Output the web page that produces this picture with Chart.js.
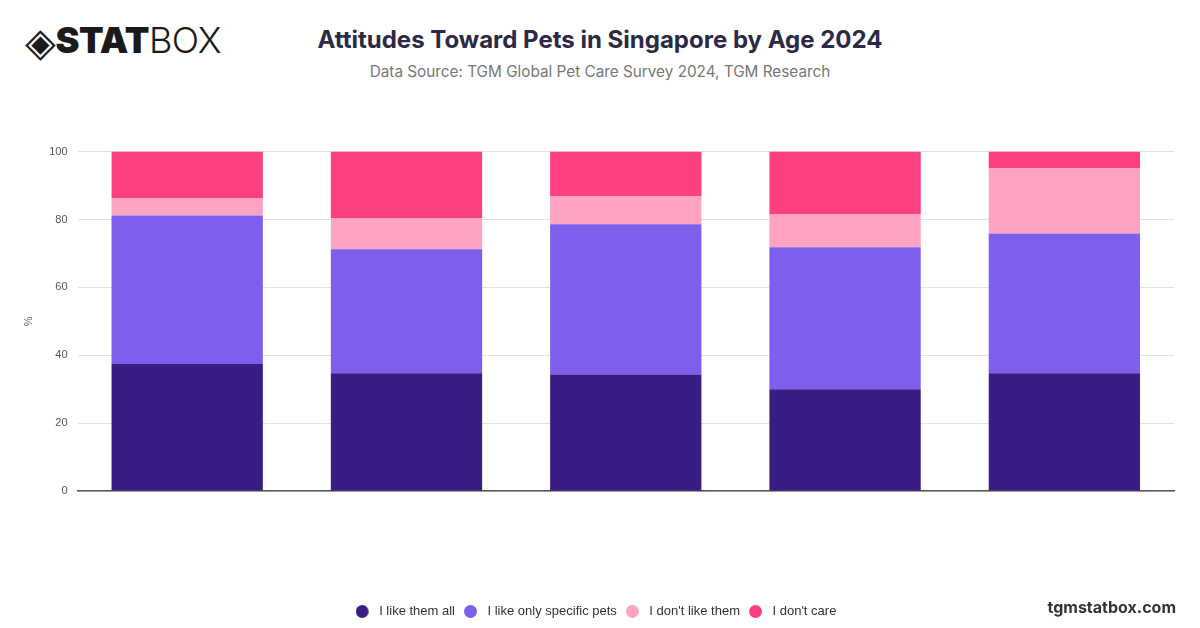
<!DOCTYPE html>
<html>
<head>
<meta charset="utf-8">
<script src="https://cdn.jsdelivr.net/npm/chart.js@4"></script>
<style>
  body { margin: 0; width: 1200px; height: 628px; background: #fff; font-family: Inter, "Noto Sans", sans-serif; overflow: hidden; }
  #logo { position: absolute; left: 25px; top: 17px; font-size: 36px; color: #1a1a1a; letter-spacing: -0.5px; white-space: nowrap; }
  #logo .d { font-size: 40px; vertical-align: -3px; }
  #logo b { font-weight: 900; }
  #logo span.l { font-weight: 300; }
  #title { position: absolute; left: 0; width: 1200px; top: 25px; text-align: center; font-size: 24px; font-weight: 700; color: #2b2946; }
  #sub { position: absolute; left: 0; width: 1200px; top: 62px; text-align: center; font-size: 15.3px; color: #777; }
  #wm { position: absolute; right: 24px; top: 597px; font-size: 16px; font-weight: 700; color: #333; }
  #box { position: absolute; left: 0; top: 135px; width: 1200px; height: 493px; }
</style>
</head>
<body>
<div id="logo"><span class="d">&#x25C8;</span><b>STAT</b><span class="l">BOX</span></div>
<div id="title">Attitudes Toward Pets in Singapore by Age 2024</div>
<div id="sub">Data Source: TGM Global Pet Care Survey 2024, TGM Research</div>
<div id="box"><canvas id="c"></canvas></div>
<div id="wm">tgmstatbox.com</div>
<script>
// age groups (labels are not shown on the chart)
var ages = ['18-24', '25-34', '35-44', '45-54', '55+'];
var likeAll = [37.4, 34.7, 34.3, 30.0, 34.7];
var likeSpecific = [43.8, 36.5, 44.3, 41.8, 41.2];
var dontLike = [5.0, 9.2, 8.3, 9.8, 19.2];
var dontCare = [13.8, 19.6, 13.1, 18.4, 4.9];
var yTicks = [0, 20, 40, 60, 80, 100];
var colors = ['#391d85', '#7d5eed', '#fea3c3', '#fe3f80'];

// legend dot with some empty room on its right, so the text sits further away
function dot(color) {
    var c = document.createElement('canvas');
    c.width = 17; c.height = 13;
    var g = c.getContext('2d');
    g.fillStyle = color;
    g.beginPath();
    g.arc(6.5, 6.5, 6.5, 0, Math.PI * 2);
    g.fill();
    return c;
}

var ctx = document.getElementById('c');
var myChart = new Chart(ctx, {
    type: 'bar',
    data: {
        labels: ages,
        datasets: [
            { label: 'I like them all', data: likeAll, backgroundColor: colors[0] },
            { label: 'I like only specific pets', data: likeSpecific, backgroundColor: colors[1] },
            { label: "I don't like them", data: dontLike, backgroundColor: colors[2] },
            { label: "I don't care", data: dontCare, backgroundColor: colors[3] }
        ]
    },
    options: {
        responsive: true,
        maintainAspectRatio: false,
        animation: false,
        layout: { padding: { left: 18, right: 26, top: 8, bottom: 0 } },
        datasets: { bar: { barPercentage: 0.69, categoryPercentage: 1.0 } },
        scales: {
            x: {
                stacked: true,
                ticks: { display: false },
                grid: { display: false },
                border: { display: true, color: '#555', width: 1.5 },
                afterFit: function (s) { s.height = 105; }
            },
            y: {
                stacked: true,
                min: 0,
                max: 100,
                afterBuildTicks: function (s) { s.ticks = yTicks.map(function (v) { return { value: v }; }); },
                ticks: { color: '#555', font: { size: 11 }, padding: 10 },
                grid: { color: '#e2e2e2', drawTicks: false },
                border: { display: false },
                title: { display: true, text: '%', color: '#666', font: { size: 11 } }
            }
        },
        plugins: {
            legend: {
                position: 'bottom',
                labels: {
                    usePointStyle: true,
                    pointStyleWidth: 17,
                    boxHeight: 13,
                    color: '#333',
                    font: { size: 13 },
                    padding: 9,
                    generateLabels: function (chart) {
                        var items = Chart.defaults.plugins.legend.labels.generateLabels(chart);
                        items.forEach(function (it, i) { it.pointStyle = dot(colors[i]); });
                        return items;
                    }
                }
            },
            tooltip: { enabled: false }
        }
    }
});
</script>
</body>
</html>
